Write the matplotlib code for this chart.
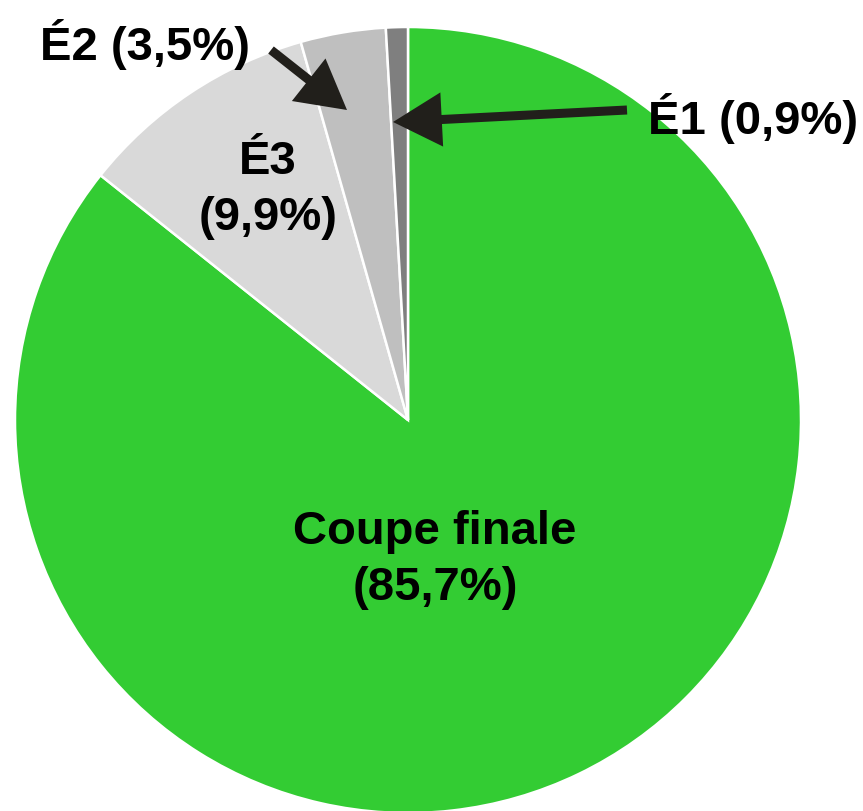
import matplotlib.pyplot as plt

plt.rcParams["font.family"] = ["Liberation Sans", "DejaVu Sans"]

# data (clockwise from 12 o'clock)
labels = ["Coupe finale", "É3", "É2", "É1"]
shares = [85.7, 9.9, 3.5, 0.9]
share_txt = ["85,7%", "9,9%", "3,5%", "0,9%"]
colors = ["#33CC33", "#D9D9D9", "#BFBFBF", "#7F7F7F"]

W, H = 863, 811
fig = plt.figure(figsize=(W / 100, H / 100), dpi=100)
ax = fig.add_axes([0, 0, 1, 1])

# pixel coords -> data coords (y flipped)
def px(x, y):
    return (x, H - y)

ax.pie(shares, colors=colors, startangle=90, counterclock=False,
       center=px(408, 420), radius=393, frame=True,
       wedgeprops=dict(edgecolor="white", linewidth=1.8))
ax.set_xlim(0, W)
ax.set_ylim(0, H)
ax.set_aspect("equal")
ax.set_axis_off()

fs = 34
kw = dict(fontsize=fs, fontweight="bold", color="black",
          ha="center", va="center", linespacing=1.38)
ax.text(*px(435, 560), f"{labels[0]}\n({share_txt[0]})", **kw)
ax.text(*px(268, 190), f"{labels[1]}\n({share_txt[1]})", **kw)
ax.text(*px(145, 45), f"{labels[2]} ({share_txt[2]})", **kw)
ax.text(*px(753, 118), f"{labels[3]} ({share_txt[3]})", **kw)

arrow = dict(arrowstyle="-|>,head_length=0.9,head_width=0.5", lw=6.5,
             color="#211F1B", mutation_scale=28, shrinkA=0, shrinkB=0,
             capstyle="butt", joinstyle="miter")
ax.annotate("", xy=px(347, 110), xytext=px(271, 50), arrowprops=arrow)
ax.annotate("", xy=px(393, 122), xytext=px(627, 110), arrowprops=arrow)

fig.savefig("out.png", dpi=100)
